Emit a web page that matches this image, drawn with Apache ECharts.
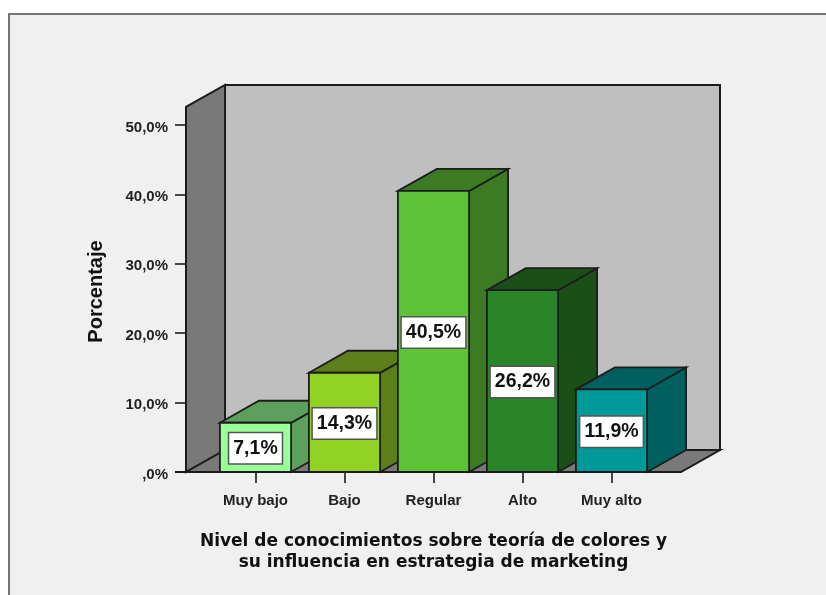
<!DOCTYPE html>
<html>
<head>
<meta charset="utf-8">
<style>html,body{margin:0;padding:0;background:#fff}#c{width:826px;height:595px}</style>
<script src="https://cdn.jsdelivr.net/npm/echarts@6/dist/echarts.min.js"></script>
</head>
<body>
<div id="c"></div>
<script>
const categories = ['Muy bajo', 'Bajo', 'Regular', 'Alto', 'Muy alto'];
const values = [7.1, 14.3, 40.5, 26.2, 11.9];
const frontColors = ['#99ff99', '#92d225', '#5dc437', '#2a8529', '#009999'];
const sideColors = ['#5da05d', '#5c7f1a', '#3c7a24', '#1a5018', '#006060'];
const axisName = 'Porcentaje';
const xTitle = 'Nivel de conocimientos sobre teoría de colores y\nsu influencia en estrategia de marketing';
const wallTopValue = 52.6;
const depthX = 39, depthY = -22, wallMargin = 25;
const edge = '#1c1c1c';
const fmt = v => v === 0 ? ',0%' : v.toFixed(1).replace('.', ',') + '%';
const poly = (pts, fill, w) => ({
  type: 'polygon',
  shape: { points: pts },
  style: { fill: fill, stroke: edge, lineWidth: w || 1.8, lineJoin: 'miter' }
});

const chart = echarts.init(document.getElementById('c'), null, { renderer: 'canvas' });
chart.setOption({
  animation: false,
  backgroundColor: 'transparent',
  graphic: [{
    type: 'rect', z: -10, silent: true,
    shape: { x: 9, y: 14, width: 900, height: 700 },
    style: { fill: '#f0f0f0', stroke: '#4a4a4a', lineWidth: 1.5 }
  }],
  grid: { left: 211, width: 445, top: 125, height: 347 },
  xAxis: {
    type: 'category',
    data: categories,
    axisLine: { show: false },
    axisTick: { show: true, alignWithLabel: true, length: 11, lineStyle: { color: '#333', width: 1.8 } },
    axisLabel: { margin: 21, color: '#222', fontFamily: 'Liberation Sans', fontWeight: 'bold', fontSize: 15 },
    name: xTitle,
    nameLocation: 'middle',
    nameGap: 59,
    nameTextStyle: { color: '#111', fontFamily: 'DejaVu Sans', fontWeight: 'bold', fontSize: 17, lineHeight: 21 }
  },
  yAxis: {
    type: 'value',
    min: 0,
    max: 50,
    interval: 10,
    offset: wallMargin,
    splitLine: { show: false },
    axisLine: { show: false },
    axisTick: { show: true, length: 11, lineStyle: { color: '#333', width: 1.8 } },
    axisLabel: {
      margin: 18,
      formatter: v => '{v|' + fmt(v) + '}',
      rich: { v: { color: '#222', fontFamily: 'Liberation Sans', fontWeight: 'bold', fontSize: 15, padding: [5, 0, 0, 0] } }
    },
    name: axisName,
    nameLocation: 'middle',
    nameRotate: 90,
    nameGap: 80,
    nameMoveOverlap: false,
    nameTextStyle: { color: '#111', fontFamily: 'Liberation Sans', fontWeight: 'bold', fontSize: 20, padding: [0, 0, 0, 14] }
  },
  series: [{
    type: 'custom',
    z: 1,
    silent: true,
    data: [[0]],
    renderItem: function (params, api) {
      const cs = params.coordSys;
      const yBase = api.coord([0, 0])[1];
      const yTop = api.coord([0, wallTopValue])[1];
      const xl = cs.x - wallMargin, xr = cs.x + cs.width + wallMargin;
      return {
        type: 'group',
        children: [
          poly([[xl + depthX, yTop + depthY], [xr + depthX, yTop + depthY], [xr + depthX, yBase + depthY], [xl + depthX, yBase + depthY]], '#bfbfbf', 2),
          poly([[xl, yTop], [xl + depthX, yTop + depthY], [xl + depthX, yBase + depthY], [xl, yBase]], '#797979', 2),
          poly([[xl, yBase], [xl + depthX, yBase + depthY], [xr + depthX, yBase + depthY], [xr, yBase]], '#797979', 2),
          { type: 'line', shape: { x1: xl - 11, y1: yBase, x2: xr, y2: yBase }, style: { stroke: edge, lineWidth: 2 } }
        ]
      };
    }
  }, {
    type: 'custom',
    z: 2,
    silent: true,
    encode: { x: 0, y: 1 },
    data: values.map((v, i) => [i, v]),
    renderItem: function (params, api) {
      const i = api.value(0), v = api.value(1);
      const base = api.coord([i, 0]);
      const top = api.coord([i, v]);
      const w = api.size([1, 0])[0] * 0.8;
      const x0 = base[0] - w / 2, x1 = base[0] + w / 2;
      const side = sideColors[i];
      return {
        type: 'group',
        children: [
          poly([[x1, base[1]], [x1 + depthX, base[1] + depthY], [x1 + depthX, top[1] + depthY], [x1, top[1]]], side),
          poly([[x0, top[1]], [x1, top[1]], [x1 + depthX, top[1] + depthY], [x0 + depthX, top[1] + depthY]], side),
          poly([[x0, base[1]], [x1, base[1]], [x1, top[1]], [x0, top[1]]], frontColors[i]),
          {
            type: 'text',
            x: base[0],
            y: (base[1] + top[1]) / 2 + 1,
            style: {
              text: fmt(v),
              fill: '#111',
              font: 'bold 19.5px "Liberation Sans"',
              align: 'center',
              verticalAlign: 'middle',
              backgroundColor: '#fff',
              borderColor: '#555',
              borderWidth: 1.5,
              padding: [5, 4, 5, 4]
            }
          }
        ]
      };
    }
  }]
});
</script>
</body>
</html>
